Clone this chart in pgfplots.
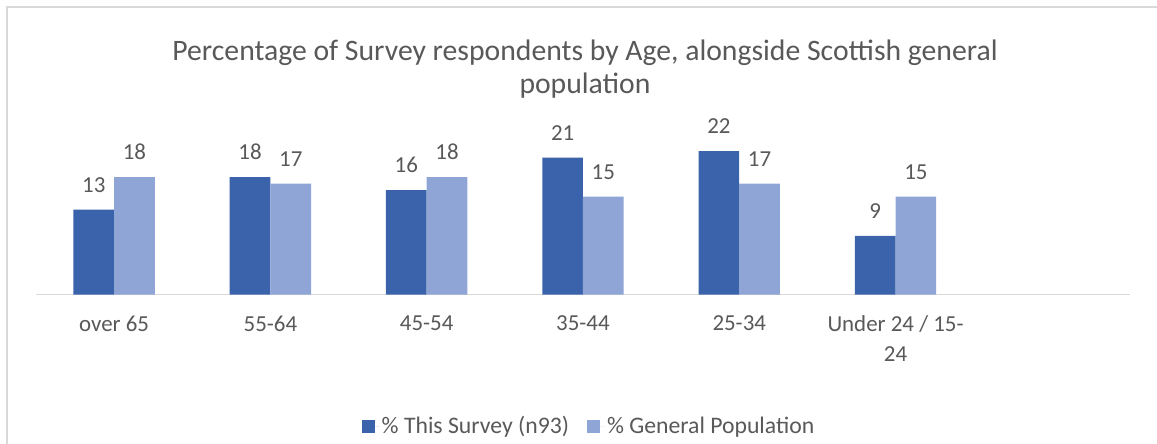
\documentclass[border=0pt]{standalone}
\usepackage{fontspec}
\setmainfont{Carlito}
\usepackage{pgfplots}
\pgfplotsset{compat=1.18}
\definecolor{surveyblue}{HTML}{3B63AC}
\definecolor{popblue}{HTML}{8FA5D5}
\definecolor{textgray}{HTML}{595959}
\definecolor{linegray}{HTML}{D9D9D9}

\begin{document}
\begin{tikzpicture}
\path[use as bounding box] (0bp,0bp) rectangle (1157bp,444bp);
\fill[white] (0bp,0bp) rectangle (1157bp,444bp);
% chart frame
\draw[linegray, line width=1.5bp] (7bp,0bp) -- (7bp,437bp) -- (1157bp,437bp);
% title
\node[text=textgray, font=\fontsize{29.8}{33}\selectfont, align=center]
  at (585bp,375bp) {Percentage of Survey respondents by Age, alongside Scottish general\\population};
\begin{axis}[
  at={(36bp,149.5bp)}, anchor=south west,
  scale only axis, width=1094bp, height=163bp,
  xmin=-0.5, xmax=6.5, ymin=0, ymax=25,
  axis x line=bottom, axis y line=none,
  axis line style={-, linegray, line width=1.5bp},
  xtick={0,...,5},
  xticklabels={over 65,55-64,45-54,35-44,25-34,{Under 24 / 15-\\24}},
  major tick length=0pt,
  xticklabel style={text=textgray, font=\fontsize{23}{30}\selectfont, align=center, anchor=north, inner sep=0pt, yshift=-21bp},
  ytick=\empty,
  ybar=0pt, bar width=40.7bp,
  nodes near coords,
  /pgf/number format/assume math mode=true,
  every node near coord/.append style={text=textgray, font=\fontsize{23}{27}\selectfont, inner sep=0pt, yshift=17bp},
  legend columns=2,
  legend style={draw=none, fill=none, at={(0.5055,-0.807)}, anchor=center,
    font=\fontsize{23.8}{27}\selectfont, text=textgray,
    /tikz/every even column/.append style={column sep=16bp}},
  legend image code/.code={\fill[#1] (0bp,-6.5bp) rectangle (13bp,6.5bp); \path (0bp,0bp) -- (18bp,0bp);},
]
\addplot[fill=surveyblue, draw=none] coordinates {(0,13) (1,18) (2,16) (3,21) (4,22) (5,9)};
\addplot[fill=popblue, draw=none] coordinates {(0,18) (1,17) (2,18) (3,15) (4,17) (5,15)};
\legend{\% This Survey (n93), \% General Population}
\end{axis}
\end{tikzpicture}
\end{document}
